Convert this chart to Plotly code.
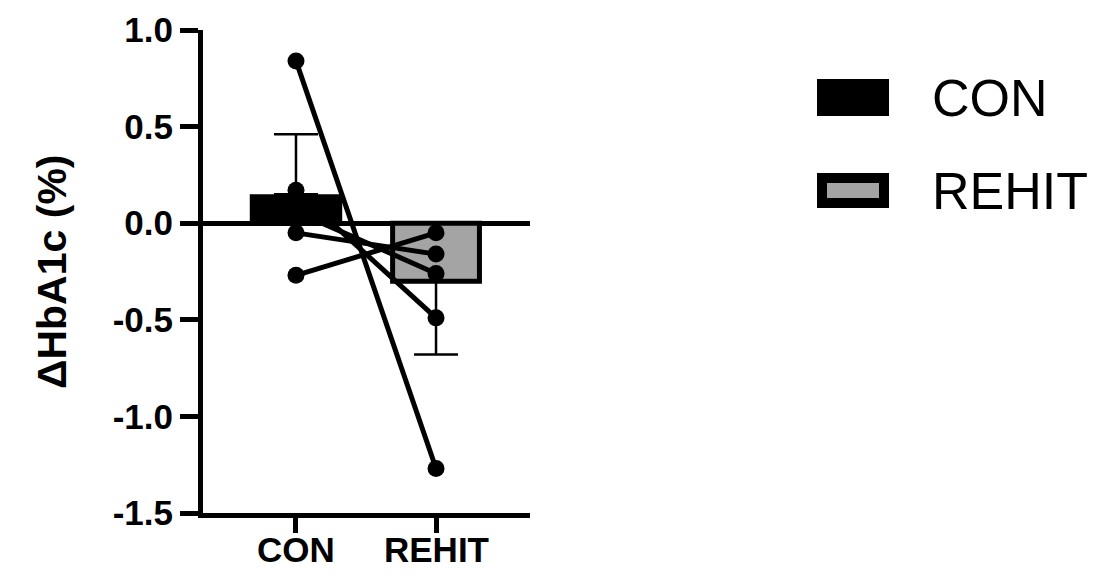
import plotly.graph_objects as go

# Groups and summary values
groups = ["CON", "REHIT"]
group_means = [0.15, -0.30]
group_sd = [0.31, 0.38]

# Individual participant changes, paired CON -> REHIT
con_values = [0.84, 0.17, 0.06, -0.05, -0.27]
rehit_values = [-1.27, -0.49, -0.26, -0.16, -0.05]

y_tick_vals = [-1.5, -1.0, -0.5, 0.0, 0.5, 1.0]
y_tick_text = ["-1.5", "-1.0", "-0.5", "0.0", "0.5", "1.0"]

FONT = "Arial, Liberation Sans, sans-serif"
GRAY = "#a4a4a4"

# Plot-area placement in pixels
W, H = 1093, 578
L, R, T, B = 203, 530, 30, 513

fig = go.Figure()

# CON bar with upward error bar
fig.add_trace(go.Bar(
    x=[0], y=[group_means[0]], width=0.66,
    marker=dict(color="black", line=dict(color="black", width=0)),
    error_y=dict(type="data", symmetric=False, array=[group_sd[0]], arrayminus=[0],
                 color="black", thickness=2.5, width=22),
    showlegend=False,
))
# REHIT bar with downward error bar
fig.add_trace(go.Bar(
    x=[1], y=[group_means[1]], width=0.62,
    marker=dict(color=GRAY, line=dict(color="black", width=5)),
    error_y=dict(type="data", symmetric=False, array=[0], arrayminus=[group_sd[1]],
                 color="black", thickness=2.5, width=22),
    showlegend=False,
))

# Paired lines for each participant
for c, r in zip(con_values, rehit_values):
    fig.add_trace(go.Scatter(
        x=[0, 1], y=[c, r], mode="lines+markers",
        line=dict(color="black", width=5),
        marker=dict(color="black", size=17),
        showlegend=False, cliponaxis=False,
    ))


def px_x(p):
    return (p - L) / (R - L)


def px_y(p):
    return (B - p) / (B - T)


# Custom legend
shapes = [
    dict(type="rect", xref="paper", yref="paper",
         x0=px_x(817), x1=px_x(889), y0=px_y(116), y1=px_y(79),
         fillcolor="black", line=dict(width=0)),
    dict(type="rect", xref="paper", yref="paper",
         x0=px_x(822), x1=px_x(884), y0=px_y(203), y1=px_y(178),
         fillcolor=GRAY, line=dict(color="black", width=10)),
]
annotations = [
    dict(text="CON", xref="paper", yref="paper", x=px_x(930), y=px_y(98),
         xanchor="left", yanchor="middle", showarrow=False,
         font=dict(family=FONT, size=52, color="black")),
    dict(text="REHIT", xref="paper", yref="paper", x=px_x(930), y=px_y(191),
         xanchor="left", yanchor="middle", showarrow=False,
         font=dict(family=FONT, size=52, color="black")),
    # y-axis title placed explicitly
    dict(text="ΔHbA1c (%)", xref="paper", yref="paper", x=px_x(52), y=px_y(272),
         xanchor="center", yanchor="middle", textangle=-90, showarrow=False,
         font=dict(family=FONT, size=41, color="black", weight="bold")),
]
# Category labels under the x axis
for i, g in enumerate(groups):
    annotations.append(dict(
        text=g, xref="x", yref="paper", x=i, y=px_y(549),
        xanchor="center", yanchor="middle", showarrow=False,
        font=dict(family=FONT, size=35, color="black", weight="bold"),
    ))

fig.update_layout(
    width=W, height=H,
    margin=dict(l=L, r=W - R, t=T, b=H - B),
    plot_bgcolor="white", paper_bgcolor="white",
    barmode="overlay",
    shapes=shapes, annotations=annotations,
    xaxis=dict(
        range=[-0.664, 1.671], tickvals=[0, 1], showticklabels=False,
        showline=True, linecolor="black", linewidth=5,
        ticks="outside", ticklen=15, tickwidth=5, tickcolor="black",
        showgrid=False, zeroline=False, automargin=False,
    ),
    yaxis=dict(
        range=[-1.5, 1.0], tickvals=y_tick_vals, ticktext=y_tick_text,
        showline=True, linecolor="black", linewidth=5,
        ticks="outside", ticklen=18, tickwidth=5, tickcolor="black",
        tickfont=dict(family=FONT, size=35, color="black", weight="bold"),
        showgrid=False, automargin=False,
        zeroline=True, zerolinecolor="black", zerolinewidth=5,
    ),
)

fig.write_html("out.html")
